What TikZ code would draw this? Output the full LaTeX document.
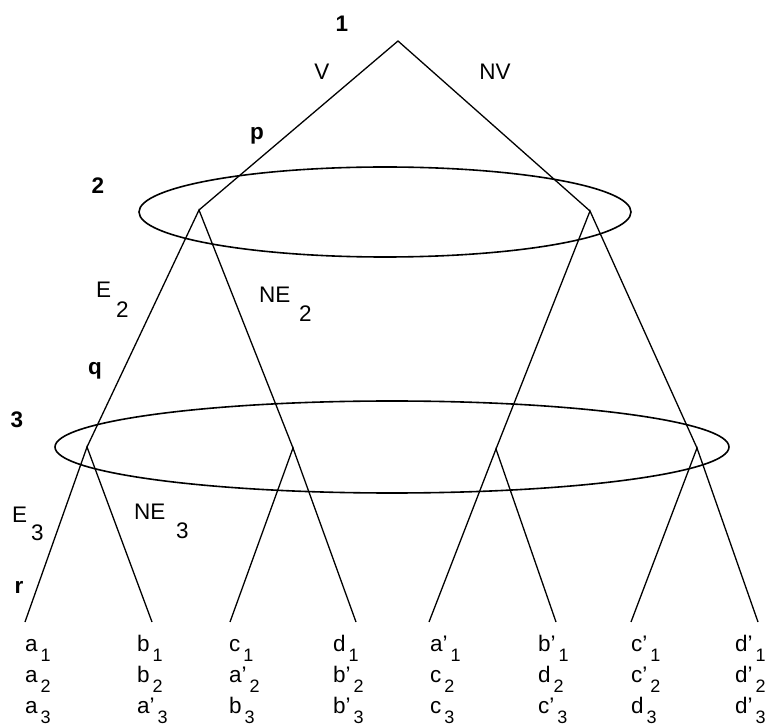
\documentclass[tikz,border=0pt]{standalone}
\usepackage{fontspec}
\setmainfont{Liberation Sans}
\newcommand\lbl[2]{#1\hspace{3pt}\raisebox{-10pt}{\fontsize{18}{18}\selectfont #2}}
\begin{document}
\begin{tikzpicture}[x=1pt,y=-1pt,
  edge/.style={line width=1.3pt},
  ring/.style={line width=1.6pt},
  lab/.style={inner sep=0pt, anchor=base, font=\fontsize{22.5}{22.5}\selectfont},
  blab/.style={inner sep=0pt, anchor=base, font=\fontsize{22.5}{22.5}\selectfont\bfseries},
  slab/.style={inner sep=0pt, anchor=base west, font=\fontsize{22.5}{22.5}\selectfont},
  leaflab/.style={inner sep=0pt, anchor=base west, font=\fontsize{22.5}{22.5}\selectfont}]
\useasboundingbox (0,0) rectangle (772,727);
% information sets
\draw[ring] (385,212) ellipse [x radius=246pt, y radius=45pt];
\draw[ring] (392,447) ellipse [x radius=337pt, y radius=46pt];
% tree nodes
\coordinate (n1) at (398,41);
\coordinate (n2L) at (199,210);
\coordinate (n2R) at (590,211);
\coordinate (n3a) at (87,447);
\coordinate (n3b) at (293,448);
\coordinate (n3c) at (496,449);
\coordinate (n3d) at (697,448);
\coordinate (l1) at (25,622);
\coordinate (l2) at (152,622);
\coordinate (l3) at (230,622);
\coordinate (l4) at (356,622);
\coordinate (l5) at (429,622);
\coordinate (l6) at (556,622);
\coordinate (l7) at (631,622);
\coordinate (l8) at (758,622);
% edges
\draw[edge] (n2L) -- (n1) -- (n2R);
\draw[edge] (n3a) -- (n2L) -- (n3b);
\draw[edge] (n3c) -- (n2R) -- (n3d);
\draw[edge] (l1) -- (n3a) -- (l2);
\draw[edge] (l3) -- (n3b) -- (l4);
\draw[edge] (l5) -- (n3c) -- (l6);
\draw[edge] (l7) -- (n3d) -- (l8);
% labels
\node[blab] (t1) at (342,32) {1};
\node[blab] (t2) at (98,194) {2};
\node[blab] (t3) at (17,428) {3};
\node[lab] (tV) at (322,80) {V};
\node[lab] (tNV) at (495,80) {NV};
\node[blab] (tp) at (257,140) {p};
\node[blab] (tq) at (95,375) {q};
\node[blab] (tr) at (19,593) {r};
\node[slab] (tE2) at (96,298) {E};
\node[slab] (tE2s) at (116,318) {2};
\node[slab] (tNE2) at (259,303) {NE};
\node[slab] (tNE2s) at (299,322) {2};
\node[slab] (tE3) at (12,522) {E};
\node[slab] (tE3s) at (31,540) {3};
\node[slab] (tNE3) at (134,520) {NE};
\node[slab] (tNE3s) at (176,539) {3};
% outcome labels
\node[leaflab] (o11) at (25,651) {\lbl{a}{1}};
\node[leaflab] (o12) at (25,682) {\lbl{a}{2}};
\node[leaflab] (o13) at (25,713) {\lbl{a}{3}};
\node[leaflab] (o21) at (137,651) {\lbl{b}{1}};
\node[leaflab] (o22) at (137,682) {\lbl{b}{2}};
\node[leaflab] (o23) at (137,713) {\lbl{a'}{3}};
\node[leaflab] (o31) at (229,651) {\lbl{c}{1}};
\node[leaflab] (o32) at (229,682) {\lbl{a'}{2}};
\node[leaflab] (o33) at (229,713) {\lbl{b}{3}};
\node[leaflab] (o41) at (333,651) {\lbl{d}{1}};
\node[leaflab] (o42) at (333,682) {\lbl{b'}{2}};
\node[leaflab] (o43) at (333,713) {\lbl{b'}{3}};
\node[leaflab] (o51) at (430,651) {\lbl{a'}{1}};
\node[leaflab] (o52) at (430,682) {\lbl{c}{2}};
\node[leaflab] (o53) at (430,713) {\lbl{c}{3}};
\node[leaflab] (o61) at (538,651) {\lbl{b'}{1}};
\node[leaflab] (o62) at (538,682) {\lbl{d}{2}};
\node[leaflab] (o63) at (538,713) {\lbl{c'}{3}};
\node[leaflab] (o71) at (631,651) {\lbl{c'}{1}};
\node[leaflab] (o72) at (631,682) {\lbl{c'}{2}};
\node[leaflab] (o73) at (631,713) {\lbl{d}{3}};
\node[leaflab] (o81) at (735,651) {\lbl{d'}{1}};
\node[leaflab] (o82) at (735,682) {\lbl{d'}{2}};
\node[leaflab] (o83) at (735,713) {\lbl{d'}{3}};
\end{tikzpicture}
\end{document}
